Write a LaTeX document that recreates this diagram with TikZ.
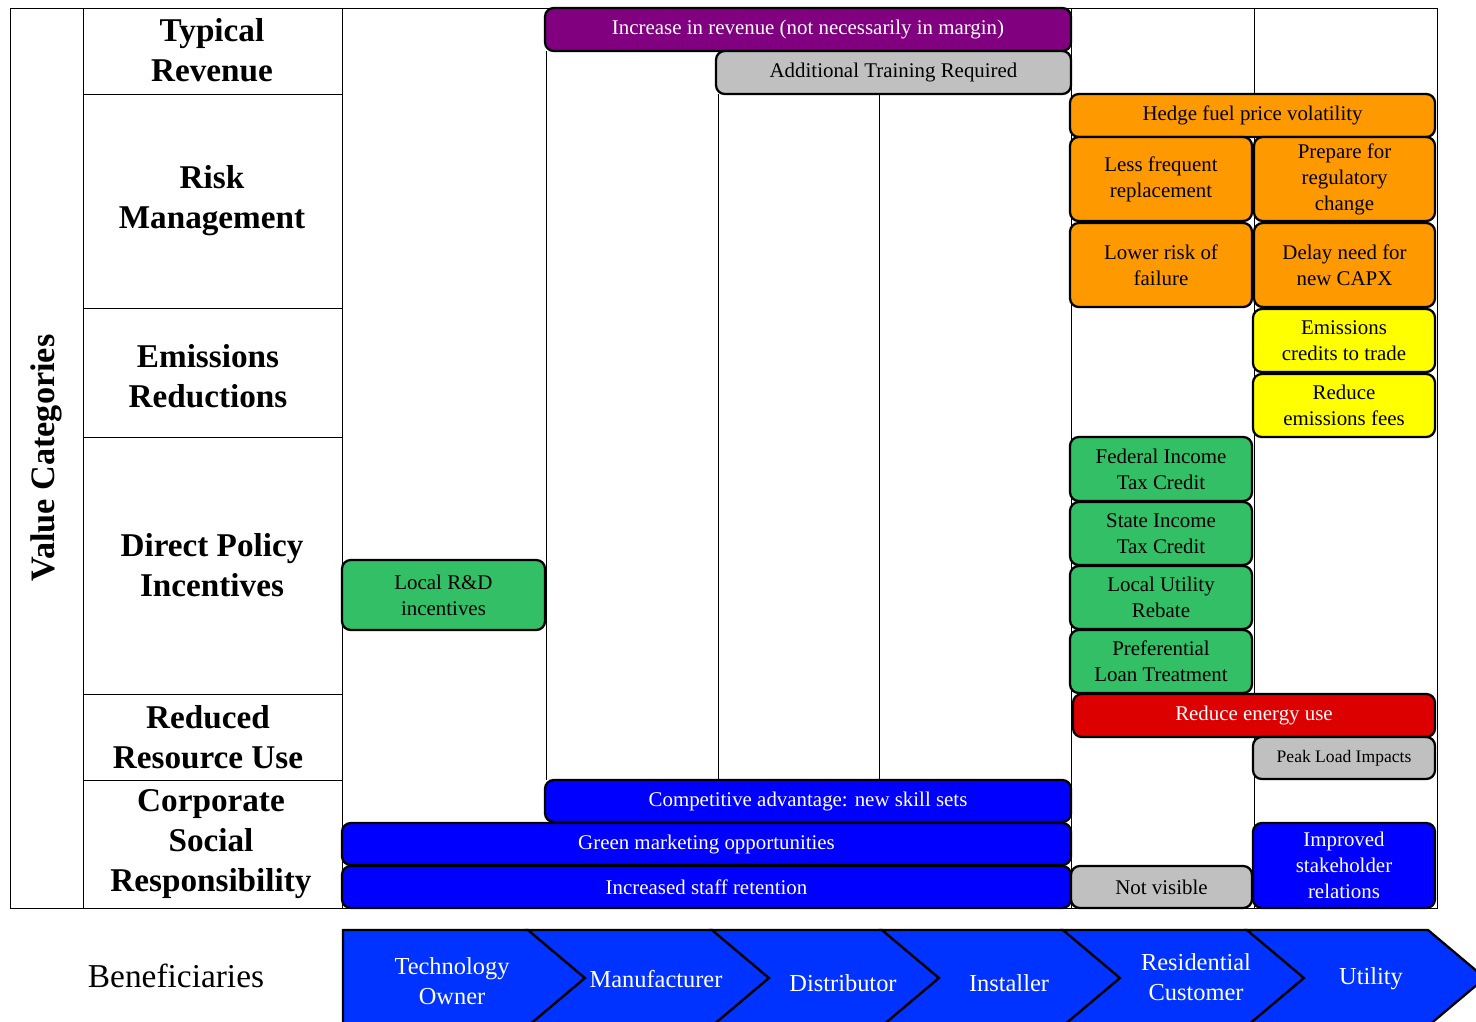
\documentclass[tikz,border=0pt]{standalone}
\usepackage{fontspec}
\setmainfont{Liberation Serif}
\definecolor{cpurple}{HTML}{800080}
\definecolor{cgray}{HTML}{C0C0C0}
\definecolor{corange}{HTML}{FF9900}
\definecolor{cyellow}{HTML}{FFFF00}
\definecolor{cgreen}{HTML}{33BF66}
\definecolor{cred}{HTML}{DD0000}
\definecolor{cblue}{HTML}{0000FF}
\definecolor{cchev}{HTML}{0033FF}
\newcommand{\vcbox}[7]{\node[vbox,#6,minimum width={(#4-#2)*0.02cm},minimum height={(#5-#3)*0.02cm}] (#1) at ({(#2+#4)/2},{(#3+#5)/2}) {#7};}
\begin{document}
\begin{tikzpicture}[x=0.02cm,y=-0.02cm,
  vbox/.style={draw=black, line width=1.3pt, rounded corners=5pt, inner sep=0pt, outer sep=0pt, align=center, font=\fontsize{11.9}{14.8}\selectfont},
  wtext/.style={text=white},
  cat/.style={font=\bfseries\fontsize{18.9}{22.7}\selectfont, align=center},
  gridline/.style={draw=black, line width=0.5pt},
  chev/.style={fill=cchev, draw=black, line width=1.3pt, line join=miter},
  chevtext/.style={text=white, font=\fontsize{13.9}{17}\selectfont, align=center}
]
\useasboundingbox[fill=white] (0,0) rectangle (1476,1021);
% grid
\draw[gridline] (10,8) rectangle (1437,908);
\draw[gridline] (83,8) -- (83,908);
\draw[gridline] (342,8) -- (342,908);
\draw[gridline] (546,51) -- (546,780);
\draw[gridline] (718,94) -- (718,780);
\draw[gridline] (879,94) -- (879,780);
\draw[gridline] (1071,8) -- (1071,908);
\draw[gridline] (1254,8) -- (1254,908);
\foreach \yy in {94,308,437,694,780} \draw[gridline] (83,\yy) -- (342,\yy);
% labels
\node[font=\bfseries\fontsize{19.5}{22}\selectfont, rotate=90] (vc) at (46,458) {Value Categories};
\node[cat] (c1) at (212,50) {Typical\\Revenue};
\node[cat] (c2) at (212,201) {Risk\\Management};
\node[cat] (c3) at (208,376) {Emissions\\Reductions};
\node[cat] (c4) at (212,565) {Direct Policy\\Incentives};
\node[cat] (c5) at (208,737) {Reduced\\Resource Use};
\node[cat] (c6) at (211,844) {Corporate\\Social\\Responsibility};
% boxes
\vcbox{b1}{545}{8}{1071}{51}{fill=cpurple,wtext}{Increase in revenue (not necessarily in margin)}
\vcbox{b2}{716}{51}{1071}{94}{fill=cgray}{Additional Training Required}
\vcbox{b3}{1070}{94}{1435}{137}{fill=corange}{Hedge fuel price volatility}
\vcbox{b4}{1070}{137}{1252}{221}{fill=corange}{Less frequent\\replacement}
\vcbox{b5}{1254}{137}{1435}{221}{fill=corange}{Prepare for\\regulatory\\change}
\vcbox{b6}{1070}{223}{1252}{307}{fill=corange}{Lower risk of\\failure}
\vcbox{b7}{1254}{223}{1435}{307}{fill=corange}{Delay need for\\new CAPX}
\vcbox{b8}{1253}{309}{1435}{372}{fill=cyellow}{Emissions\\credits to trade}
\vcbox{b9}{1253}{374}{1435}{437}{fill=cyellow}{Reduce\\emissions fees}
\vcbox{b10}{1070}{437}{1252}{501}{fill=cgreen}{Federal Income\\Tax Credit}
\vcbox{b11}{1070}{502}{1252}{565}{fill=cgreen}{State Income\\Tax Credit}
\vcbox{b12}{1070}{566}{1252}{629}{fill=cgreen}{Local Utility\\Rebate}
\vcbox{b13}{1070}{630}{1252}{693}{fill=cgreen}{Preferential\\Loan Treatment}
\vcbox{b14}{342}{560}{545}{630}{fill=cgreen}{Local R\&D\\incentives}
\vcbox{b15}{1073}{694}{1435}{737}{fill=cred,wtext}{Reduce energy use}
\vcbox{b16}{1253}{737}{1435}{779}{fill=cgray,font=\fontsize{10}{12}\selectfont}{Peak Load Impacts}
\vcbox{b17}{545}{780}{1071}{822}{fill=cblue,wtext}{Competitive advantage: new skill sets}
\vcbox{b18}{342}{823}{1071}{865}{fill=cblue,wtext}{Green marketing opportunities}
\vcbox{b19}{342}{866}{1071}{908}{fill=cblue,wtext}{Increased staff retention}
\vcbox{b20}{1071}{866}{1252}{908}{fill=cgray}{Not visible}
\vcbox{b21}{1253}{823}{1435}{908}{fill=cblue,wtext}{Improved\\stakeholder\\relations}
% beneficiaries
\node[font=\fontsize{19}{22}\selectfont] (ben) at (176,976) {Beneficiaries};
\begin{scope}
\clip (0,0) rectangle (1476,1021);
\draw[chev] (343,930) -- (528,930) -- (585,978) -- (528,1026) -- (343,1026) -- cycle;
\draw[chev] (528,930) -- (712,930) -- (769,978) -- (712,1026) -- (528,1026) -- (585,978) -- cycle;
\draw[chev] (712,930) -- (882,930) -- (939,978) -- (882,1026) -- (712,1026) -- (769,978) -- cycle;
\draw[chev] (882,930) -- (1063,930) -- (1120,978) -- (1063,1026) -- (882,1026) -- (939,978) -- cycle;
\draw[chev] (1063,930) -- (1247,930) -- (1304,978) -- (1247,1026) -- (1063,1026) -- (1120,978) -- cycle;
\draw[chev] (1247,930) -- (1428,930) -- (1485,978) -- (1428,1026) -- (1247,1026) -- (1304,978) -- cycle;
\end{scope}
\node[chevtext] (t1) at (452,981) {Technology\\Owner};
\node[chevtext] (t2) at (656,979) {Manufacturer};
\node[chevtext] (t3) at (843,983) {Distributor};
\node[chevtext] (t4) at (1009,983) {Installer};
\node[chevtext] (t5) at (1196,977) {Residential\\Customer};
\node[chevtext] (t6) at (1371,979) {Utility};
\end{tikzpicture}
\end{document}
